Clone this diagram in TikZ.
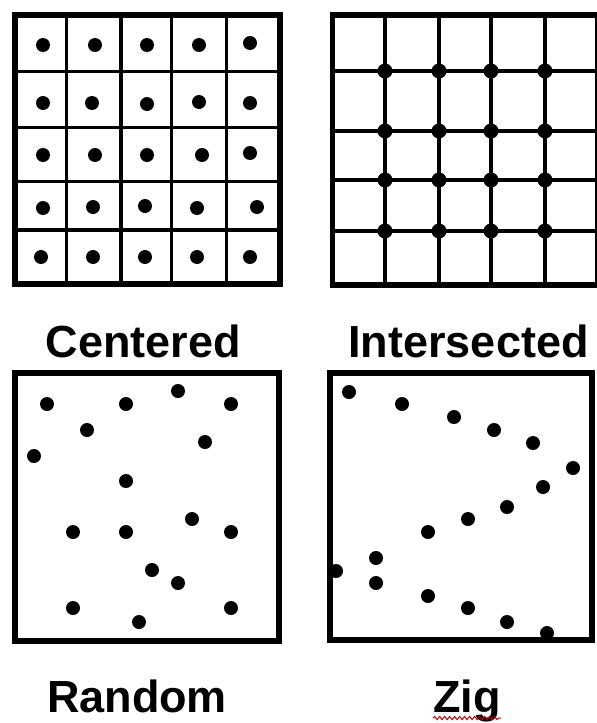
\documentclass[tikz,border=0pt]{standalone}
\usepackage{fontspec}
\setmainfont{Liberation Sans}
\usetikzlibrary{decorations.pathmorphing}

\tikzset{
  frame/.style={line width=5.5pt},
  gridline/.style={line width=3.2pt},
  dot/.style={fill=black},
  caption/.style={font=\bfseries\fontsize{45}{45}\selectfont, anchor=base, inner sep=0pt},
  spell/.style={red!75!black, line width=1pt, decorate,
    decoration={snake, amplitude=1.6pt, segment length=5pt}}
}

\begin{document}
\begin{tikzpicture}[x=1pt, y=-1pt]
\useasboundingbox (0,0) rectangle (597,723);
\clip (0,0) rectangle (597,723);

% Centered
\foreach \x in {66.7,121,171.7,226.7} {
    \draw[gridline] (\x,15) -- (\x,284);
}
\foreach \y in {71.7,127.7,181.7,230} {
    \draw[gridline] (15,\y) -- (280,\y);
}
\draw[frame] (15,15) rectangle (280,284);
\foreach \x/\y in {43/45, 95/45, 147/45, 199/45, 250/43,
                   43/103, 92/103, 147/104, 199/102, 250/103,
                   43/155, 95/155, 147/155, 202/155, 250/153,
                   43/208, 93/207, 145/206, 197/208, 257/207,
                   41/257, 93/257, 145/257, 197/257, 250/257} {
    \fill[dot] (\x,\y) circle (7);
}
\node[caption] (centered) at (143.5,357) {Centered};

% Intersected
\foreach \x in {385,439,491,545} {
    \draw[gridline] (\x,15) -- (\x,285);
}
\foreach \y in {71,131,180,231} {
    \draw[gridline] (332.5,\y) -- (598,\y);
}
\draw[frame] (332.5,15) rectangle (598,285);
\foreach \x in {385,439,491,545} {
    \foreach \y in {71,131,180,231} {
        \fill[dot] (\x,\y) circle (7.5);
    }
}
\node[caption] (intersected) at (468.5,357) {Intersected};

% Random
\draw[frame] (15,373) rectangle (279,641);
\foreach \x/\y in {47/404, 126/404, 178/391, 231/404, 87/430, 205/442,
                   34/456, 126/481, 192/519, 73/532, 126/532, 231/532,
                   152/570, 178/583, 73/608, 231/608, 139/622} {
    \fill[dot] (\x,\y) circle (7);
}
\node[caption] (random) at (137,712) {Random};

% Zig
\draw[frame] (330,373) rectangle (592,640);
\foreach \x/\y in {349/392, 402/404, 454/417, 494/430, 533/443, 573/468,
                   543/487, 507/507, 468/519, 428/532, 376/558, 336/571,
                   376/583, 428/596, 468/608, 507/622, 547/633} {
    \fill[dot] (\x,\y) circle (7);
}
\node[caption] (zig) at (467,712) {Zig};
\draw[spell] ([yshift=-6pt]zig.base west) -- ([yshift=-6pt]zig.base east);

\end{tikzpicture}
\end{document}
